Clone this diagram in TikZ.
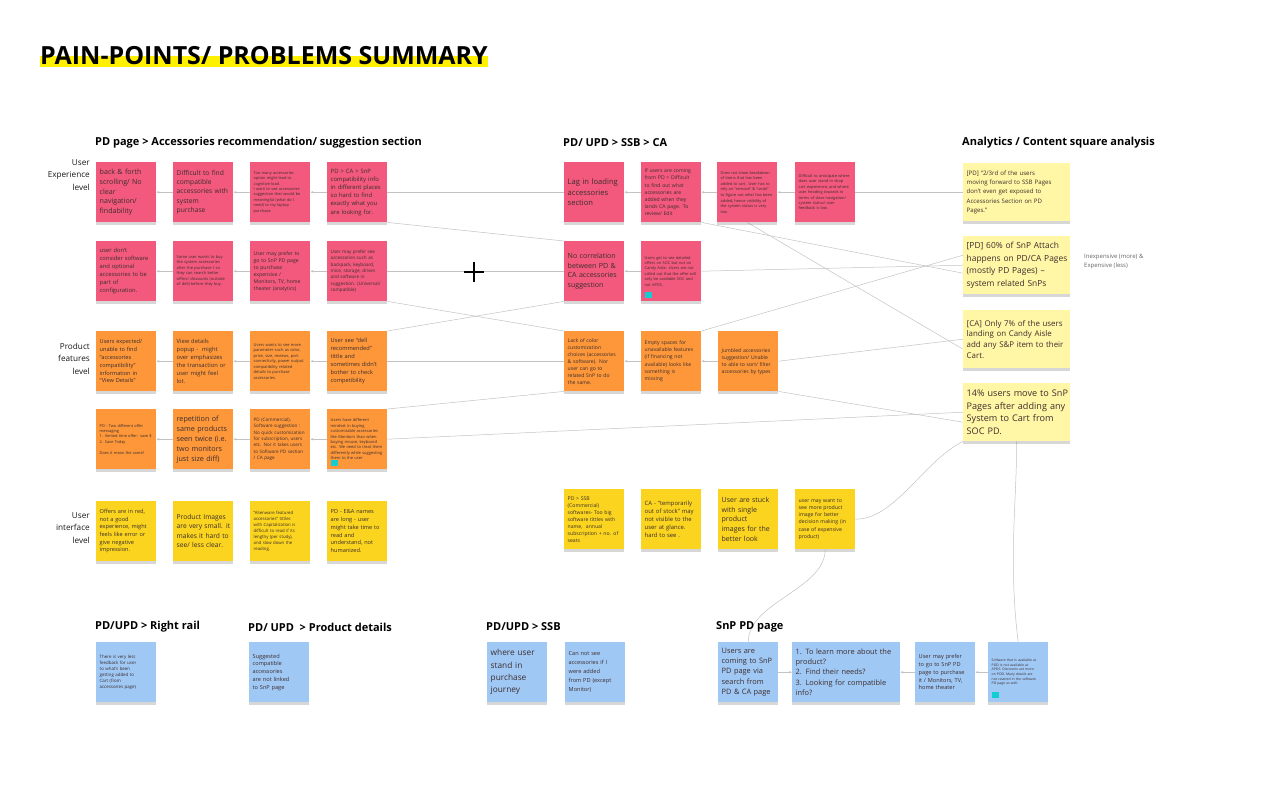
\documentclass[tikz,border=0pt]{standalone}
\usepackage{fontspec}
\setmainfont{Open Sans}
\usetikzlibrary{shadows,arrows.meta,positioning}

\definecolor{stickypink}{RGB}{242,89,125}
\definecolor{stickyorange}{RGB}{253,151,58}
\definecolor{stickyyellow}{RGB}{250,212,30}
\definecolor{paleyellow}{RGB}{255,247,165}
\definecolor{stickyblue}{RGB}{160,200,245}
\definecolor{tealmark}{RGB}{20,205,210}
\definecolor{linegrey}{RGB}{195,195,195}
\definecolor{notetext}{RGB}{60,45,45}
\definecolor{marker}{RGB}{255,240,0}

\pgfdeclarelayer{paper}
\pgfdeclarelayer{background}
\pgfsetlayers{paper,background,main}

\tikzset{
  note/.style={anchor=north west, minimum width=60pt, minimum height=60pt, text width=53pt,
    align=left, inner sep=0pt, text=notetext,
    execute at begin node={\rightskip=0pt plus 1fil minus 200pt},
    drop shadow={shadow xshift=0pt, shadow yshift=-2.5pt, opacity=0.22, fill=black!70}},
  widenote/.style={note, minimum width=107pt, minimum height=58pt, text width=100pt},
  pinknote/.style={note, fill=stickypink},
  orangenote/.style={note, fill=stickyorange},
  yellownote/.style={note, fill=stickyyellow},
  palenote/.style={widenote, fill=paleyellow},
  bluenote/.style={note, fill=stickyblue},
  fs/.style 2 args={font=\fontsize{#1}{#2}\selectfont},
  heading/.style={anchor=west, font=\fontsize{11}{13}\selectfont\bfseries, inner sep=0pt},
  levellabel/.style={anchor=north east, align=right, font=\fontsize{8.2}{12.5}\selectfont, text=black!90, inner sep=0pt},
  link/.style={draw=linegrey, line width=0.5pt},
  linkarrow/.style={link, -{Stealth[length=3pt,width=2.4pt]}},
  tealtag/.style={fill=tealmark, minimum width=7pt, minimum height=6pt, inner sep=0pt, anchor=north west},
}

\begin{document}
\begin{tikzpicture}[x=1pt,y=-1pt]
  \useasboundingbox (0,0) rectangle (1280,801);
  \begin{pgfonlayer}{paper}
    \fill[white] (0,0) rectangle (1280,801);
  \end{pgfonlayer}

  % title and headings
  \node[anchor=base west, inner sep=0pt, font=\fontsize{25}{30}\selectfont\bfseries] (title) at (40,64) {PAIN-POINTS/ PROBLEMS SUMMARY};
  \node[heading] (hdA) at (95,143) {PD page > Accessories recommendation/ suggestion section};
  \node[heading] (hdB) at (563,143) {PD/ UPD > SSB > CA};
  \node[heading] (hdC) at (962,143) {Analytics / Content square analysis};
  \node[heading] (hdD) at (95,627) {PD/UPD > Right rail};
  \node[heading] (hdE) at (248,627) {PD/ UPD~ > Product details};
  \node[heading] (hdF) at (486,627) {PD/UPD > SSB};
  \node[heading] (hdG) at (716,627) {SnP PD page};

  \node[levellabel] (lvUX) at (90,159) {User\\ Experience\\ level};
  \node[levellabel] (lvPF) at (90,343) {Product\\ features\\ level};
  \node[levellabel] (lvUI) at (90,512) {User\\ interface\\ level};

  % PD page notes
  \node[pinknote, fs={7.1}{9.8}] (a11) at (96,162) {back \& forth\\ scrolling/ No\\ clear\\ navigation/\\ findability};
  \node[pinknote, fs={6.7}{9.2}] (a12) at (173,162) {Difficult to find\\ compatible\\ accessories with\\ system\\ purchase};
  \node[pinknote, fs={3.9}{5.4}] (a13) at (250,162) {Too many accessories\\ option might lead to\\ cognitive load.\\ I want to see accessories\\ suggestion that would be\\ meaningful (what do I\\ need) to my laptop\\ purchase.};
  \node[pinknote, fs={5.9}{8.2}] (a14) at (327,162) {PD > CA > SnP\\ compatibility info\\ in different places\\ so hard to find\\ exactly what you\\ are looking for.};

  \node[pinknote, fs={5.8}{8}] (a21) at (96,241) {user don't\\ consider software\\ and optional\\ accessories to be\\ part of\\ configuration.};
  \node[pinknote, fs={4}{5.5}] (a22) at (173,241) {Some user wants to buy\\ the system accessories\\ after the purchase t so\\ they can search better\\ offers/ discounts (outside\\ of dell) before they buy.};
  \node[pinknote, fs={5.1}{7}] (a23) at (250,241) {User may prefer to\\ go to SnP PD page\\ to purchase\\ expensive /\\ Monitors, TV, home\\ theater (analytics)};
  \node[pinknote, fs={4.6}{6.3}] (a24) at (327,241) {User may prefer see\\ accessories such as\\ backpack, keyboard,\\ mice, storage, drives\\ and software in\\ suggestion. (Universal/\\ compatible)};

  \node[orangenote, fs={5.6}{7.8}] (b11) at (96,331) {Users expected/\\ unable to find\\ “accessories\\ compatibility”\\ information in\\ “View Details”};
  \node[orangenote, fs={5.8}{8}] (b12) at (173,331) {View details\\ popup -~ might\\ over emphasizes\\ the transaction or\\ user might feel\\ lot.};
  \node[orangenote, fs={4}{5.5}] (b13) at (250,331) {Users wants to see more\\ parameter such as color,\\ price, size, reviews, port\\ connectivity, power output\\ compatibility related\\ details to purchase\\ accessories.};
  \node[orangenote, fs={5.7}{7.9}] (b14) at (327,331) {User see “dell\\ recommended”\\ tittle and\\ sometimes didn't\\ bother to check\\ competibility};

  \node[orangenote, fs={3.9}{5.4}] (b21) at (96,409) {PD - Two different offer\\ messaging\\ 1. limited time offer: save \$\\ 2. Save Today\\[5.4pt] Does it mean the same?};
  \node[orangenote, fs={7.2}{10}] (b22) at (173,409) {repetition of\\ same products\\ seen twice (i.e.\\ two monitors\\ just size diff)};
  \node[orangenote, fs={4.6}{6.3}] (b23) at (250,409) {PD (Commercial),\\ Software suggestion :\\ No quick customization\\ for subscription, users\\ etc. Nor it takes users\\ to Software PD section\\ / CA page};
  \node[orangenote, fs={4}{5.4}] (b24) at (327,409) {Users have different\\ mindset in buying\\ customizable accessories\\ like Monitors than when\\ buying mouse, keyboard\\ etc. We need to treat them\\ differently while suggesting\\ them to the user\\[6pt]};
  \node[tealtag] (b24tag) at (331,460) {};

  \node[yellownote, fs={5.6}{7.7}] (c11) at (96,501) {Offers are in red,\\ not a good\\ experience, might\\ feels like error or\\ give negative\\ impression.};
  \node[yellownote, fs={6.7}{9.5}] (c12) at (173,501) {Product Images\\ are very small. it\\ makes it hard to\\ see/ less clear.};
  \node[yellownote, fs={4.3}{6}] (c13) at (250,501) {“Alienware featured\\ accessories” tittles\\ with Capitalization is\\ difficult to read if its\\ lengthy (per study),\\ and slow down the\\ reading.};
  \node[yellownote, fs={5.6}{7.8}] (c14) at (327,501) {PD - E\&A names\\ are long - user\\ might take time to\\ read and\\ understand, not\\ humanized.};

  % PD/ UPD > SSB > CA notes
  \node[pinknote, fs={7.6}{10.5}] (d11) at (564,162) {Lag in loading\\ accessories\\ section};
  \node[pinknote, fs={5.1}{7.1}] (d12) at (641,162) {If users are coming\\ from PD > Difficult\\ to find out what\\ accessories are\\ added when they\\ lands CA page. To\\ review/ Edit};
  \node[pinknote, fs={3.9}{5.6}] (d13) at (717,162) {Does not show breakdown\\ of items that has been\\ added to cart. User has to\\ rely on “remove” \& “undo”\\ to figure out what has been\\ added, hence visibility of\\ the system status is very\\ low.};
  \node[pinknote, fs={3.9}{5.4}] (d14) at (795,162) {Difficult to anticipate where\\ does user stand in shop\\ cart experience, and where\\ user heading towards in\\ terms of clear navigation/\\ system status/ user\\ feedback is low.};

  \node[pinknote, fs={7.1}{9.8}] (d21) at (564,241) {No correlation\\ between PD \&\\ CA accessories\\ suggestion};
  \node[pinknote, fs={3.9}{5.4}] (d22) at (641,241) {Users get to see detailed\\ offers on SOC but not on\\ Candy Aisle. Users are not\\ called out that the offer will\\ only be available SOC and\\ not APOS.};
  \node[tealtag] (d22tag) at (645,292) {};

  \node[orangenote, fs={5.1}{7}] (e11) at (564,331) {Lack of color\\ customization\\ choices (accessories\\ \& software). Nor\\ user can go to\\ related SnP to do\\ the same.};
  \node[orangenote, fs={5.1}{7.1}] (e12) at (641,331) {Empty spaces for\\ unavailable features\\ (if financing not\\ available) looks like\\ something is\\ missing};
  \node[orangenote, fs={5.1}{7}] (e13) at (718,331) {Jumbled accessories\\ suggestion/ Unable\\ to able to sort/ filter\\ accessories by types};

  \node[yellownote, fs={5.1}{7}] (f11) at (564,489) {PD > SSB\\ (Commercial)\\ softwares- Too big\\ software tittles with\\ name,~ annual\\ subscription + no. of\\ seats};
  \node[yellownote, fs={5.9}{8.1}] (f12) at (641,489) {CA - “temporarily\\ out of stock” may\\ not visible to the\\ user at glance.\\ hard to see .};
  \node[yellownote, fs={7}{9.6}] (f13) at (718,489) {User are stuck\\ with single\\ product\\ images for the\\ better look};
  \node[yellownote, fs={5.2}{7.2}] (f14) at (795,489) {user may want to\\ see more product\\ image for better\\ decision making (in\\ case of expensive\\ product)};

  % Analytics notes
  \node[palenote, fs={6.1}{9.3}] (g1) at (963,163) {[PD] “2/3rd of the users\\ moving forward to SSB Pages\\ don't even get exposed to\\ Accessories Section on PD\\ Pages.”};
  \node[palenote, fs={8.4}{12.6}] (g2) at (963,236) {[PD] 60\% of SnP Attach\\ happens on PD/CA Pages\\ (mostly PD Pages) –\\ system related SnPs};
  \node[palenote, fs={7.9}{10.7}] (g3) at (963,310) {[CA] Only 7\% of the users\\ landing on Candy Aisle\\ add any S\&P item to their\\ Cart.};
  \node[palenote, fs={9.1}{12.8}] (g4) at (963,383) {14\% users move to SnP\\ Pages after adding any\\ System to Cart from\\ SOC PD.};
  \node[anchor=north west, align=left, inner sep=0pt, fs={6}{9}, text=black!60] (sidenote) at (1084,254) {Inexpensive (more) \&\\ Expensive (less)};

  % bottom notes
  \node[bluenote, fs={4.4}{6}] (h1) at (96,642) {There is very less\\ feedback for user\\ to what's been\\ getting added to\\ Cart (from\\ accessories page)};
  \node[bluenote, fs={5.6}{7.75}] (h2) at (249,642) {Suggested\\ compatible\\ accessories\\ are not linked\\ to SnP page};
  \node[bluenote, fs={8.3}{12.3}] (h3) at (487,642) {where user\\ stand in\\ purchase\\ journey};
  \node[bluenote, fs={5.6}{9}] (h4) at (565,642) {Can not see\\ accessories if I\\ were added\\ from PD (except\\ Monitor)};
  \node[bluenote, fs={7.4}{10.3}] (s1) at (718,642) {Users are\\ coming to SnP\\ PD page via\\ search from\\ PD \& CA page};
  \node[bluenote, minimum width=108pt, text width=101pt, fs={7.4}{10.2}] (s2) at (792,642) {1. To learn more about the\\ product?\\ 2. Find their needs?\\ 3. Looking for compatible\\ info?};
  \node[bluenote, fs={5.6}{7.8}] (s3) at (915,642) {User may prefer\\ to go to SnP PD\\ page to purchase\\ it / Monitors, TV,\\ home theater};
  \node[bluenote, fs={3.4}{4.7}] (s4) at (988,642) {Software that is available at\\ POD is not available at\\ APOS. Discounts are more\\ on POD. Many details are\\ not covered in the software\\ PD page as well.\\[8pt]};
  \node[tealtag] (s4tag) at (992,692) {};

  % cursor cross
  \draw[line width=1.5pt] (464,272) -- (484,272) (474,262) -- (474,282);

  \begin{pgfonlayer}{background}
    \fill[marker] ([yshift=8pt]title.base west) rectangle ([yshift=-3pt]title.base east);
    % links inside rows
    \foreach \from/\to in {a12/a11,a13/a12,a14/a13,a22/a21,a23/a22,a24/a23,b12/b11,b13/b12,b14/b13,
        b22/b21,b23/b22,b24/b23,d12/d11,d13/d12,d14/d13,d22/d21,e12/e11,e13/e12,s3/s2,s4/s3}
      \draw[linkarrow] (\from) -- (\to);
    \draw[linkarrow] (s1) -- (s2);
    % links across sections
    \draw[link] (a14.east) -- (d11.west);
    \draw[link] (d14.east) -- (g1.west);
    \draw[link] (a24.east) -- (d21.west);
    \draw[link] (d22.east) -- (g2.west);
    \draw[link] (b14.east) -- (e11.west);
    \draw[link] (e13.east) -- (g3.west);
    \draw[link] (b24.east) -- (g4.west);
    \draw[link] (d12.south east) -- ([yshift=-8pt]g2.west);
    \draw[link] (d13.south) -- ([yshift=-10pt]g3.west);
    \draw[link] (e12.north east) -- ([yshift=10pt]g2.west);
    \draw[link] (e13.south east) -- ([yshift=-10pt]g4.west);
    \draw[link] (a14.south east) -- (d21.north west);
    \draw[link] (a24.south east) -- (e11.north west);
    \draw[link] (b14.north east) -- (d21.south west);
    \draw[link] (b24.north east) -- (e11.south west);
    \draw[link] (s1.north) .. controls +(0,-40) and +(0,40) .. (f14.south);
    \draw[link] (s4.north) .. controls +(-10,-80) and +(0,60) .. (g4.south);
    \draw[link] (f14.east) .. controls +(40,0) and +(-40,20) .. (g4.south west);
  \end{pgfonlayer}
\end{tikzpicture}
\end{document}
